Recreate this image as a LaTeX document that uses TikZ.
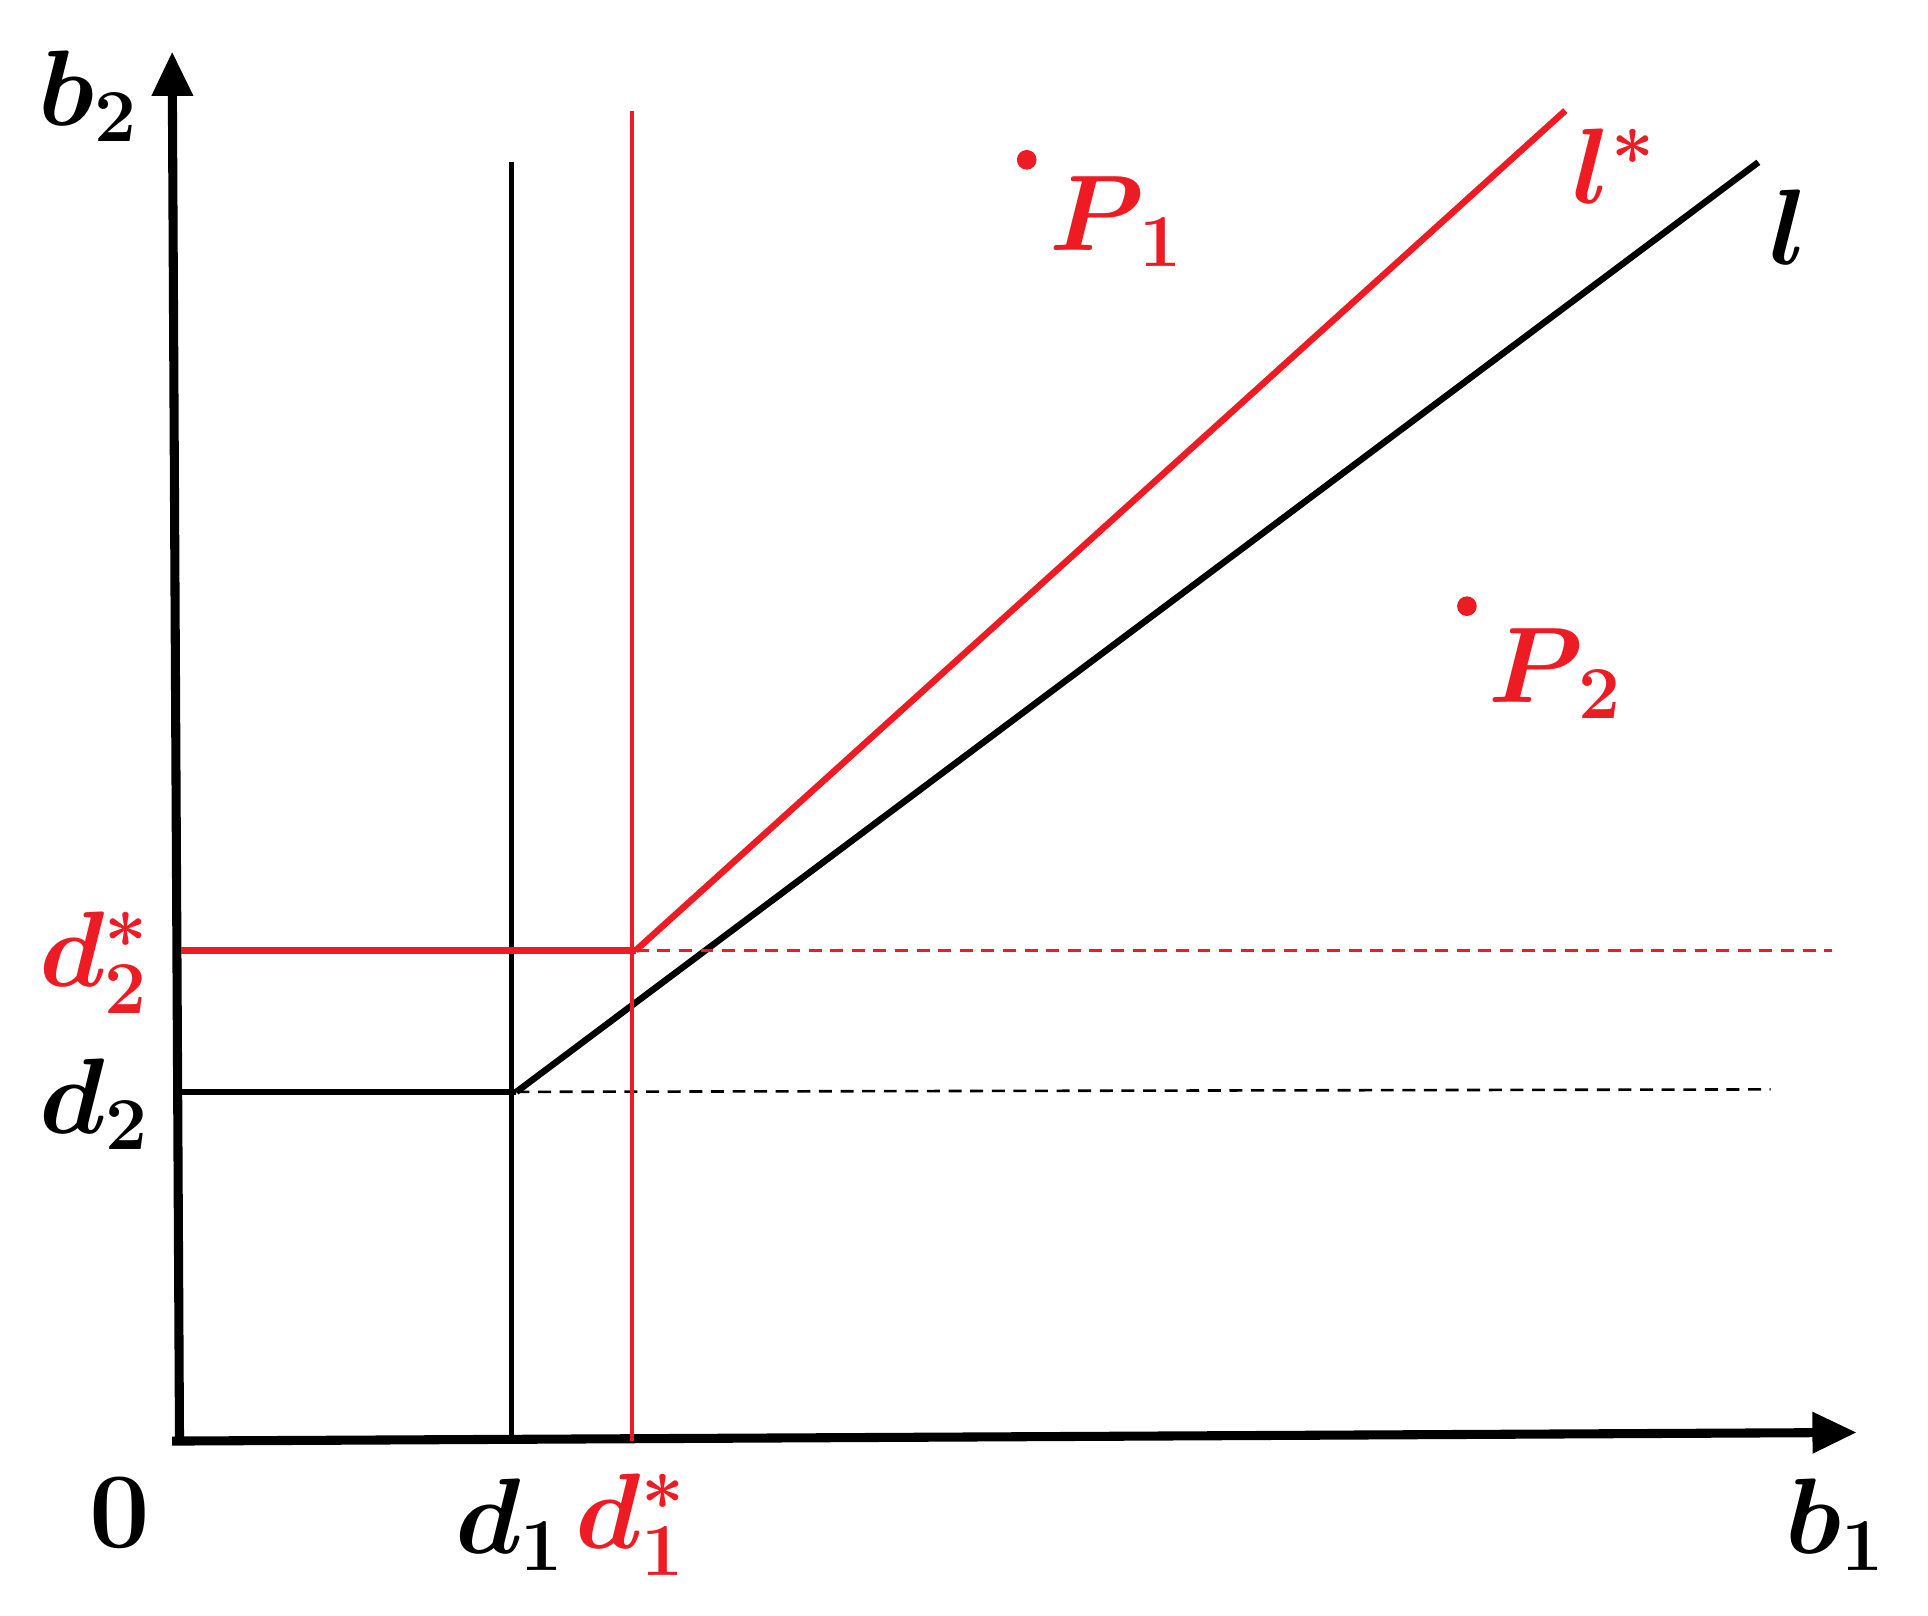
\documentclass[tikz,border=0pt]{standalone}
\usepackage{amsmath,amssymb,bm}
\usepackage{xcolor}
\usepackage{tikz}
\usetikzlibrary{calc,arrows.meta,positioning}
\definecolor{ink}{HTML}{000000}
\definecolor{hot}{HTML}{ED1C24}
\tikzset{
  axis/.style={draw=ink, line width=2.1pt, -{Triangle[length=0.36cm,width=0.32cm]}},
  base/.style={draw=ink, line width=1.5pt},
  thin/.style={draw=ink, line width=1.1pt},
  new/.style={draw=hot, line width=1.5pt},
  newthin/.style={draw=hot, line width=1.1pt},
  help/.style={draw=ink, dashed, dash pattern=on 3pt off 2pt, line width=0.6pt},
  newhelp/.style={draw=hot, dashed, dash pattern=on 3pt off 2pt, line width=0.6pt},
  dot/.style={circle, fill=hot, inner sep=0pt, minimum size=0.16cm},
  lab/.style={text=ink, font=\fontsize{26}{30}\selectfont},
  labr/.style={text=hot, font=\fontsize{26}{30}\selectfont},
}
\begin{document}
\begin{tikzpicture}
\useasboundingbox (0,0) rectangle (15.68,13.14);
% axes
\coordinate (O) at (1.46,1.42);
\coordinate (ytip) at (1.40,12.72);
\coordinate (xtip) at (15.10,1.49);
\draw[axis] (O) -- (ytip);
\draw[axis] (1.40,1.42) -- (xtip);
% old thresholds
\coordinate (A) at (4.20,4.26);
\coordinate (d1top) at (4.16,11.82);
\coordinate (d1bot) at (4.16,1.42);
\coordinate (d2left) at (1.47,4.26);
\coordinate (d2end) at (14.40,4.28);
\coordinate (ltop) at (14.30,11.82);
\draw[thin] (d1bot) -- (d1top);
\draw[base] (d2left) -- (A);
\draw[help] (A) -- (d2end);
\draw[base] (A) -- (ltop);
% new thresholds
\coordinate (B) at (5.17,5.41);
\coordinate (e1top) at (5.14,12.24);
\coordinate (e1bot) at (5.14,1.42);
\coordinate (e2left) at (1.47,5.41);
\coordinate (e2end) at (14.90,5.41);
\coordinate (mtop) at (12.73,12.24);
\draw[newthin] (e1bot) -- (e1top);
\draw[new] (e2left) -- (B);
\draw[newhelp] (B) -- (e2end);
\draw[new] (B) -- (mtop);
% points
\node[dot] (P1) at (8.35,11.84) {};
\node[dot] (P2) at (11.93,8.21) {};
\node[labr] (P1lab) at (9.08,11.34) {$\bm{P}_{\,\mathbf{1}}$};
\node[labr] (P2lab) at (12.65,7.66) {$\bm{P}_{\,\mathbf{2}}$};
% labels
\node[lab] (b2lab) at (0.72,12.36) {$\bm{b}_{\mathbf{2}}$};
\node[lab] (b1lab) at (14.93,0.74) {$\bm{b}_{\mathbf{1}}$};
\node[lab] (zero) at (0.97,0.84) {$\mathbf{0}$};
\node[lab] (d1lab) at (4.15,0.74) {$\bm{d}_{\mathbf{1}}$};
\node[labr] (e1lab) at (5.13,0.74) {$\bm{d}_{\mathbf{1}}^{\bm{*}}$};
\node[lab] (d2lab) at (0.77,4.16) {$\bm{d}_{\mathbf{2}}$};
\node[labr] (e2lab) at (0.77,5.31) {$\bm{d}_{\mathbf{2}}^{\bm{*}}$};
\node[lab] (llab) at (14.55,11.29) {$\bm{l}$};
\node[labr] (mlab) at (13.13,11.79) {$\bm{l}^{\bm{*}}$};
\end{tikzpicture}
\end{document}
